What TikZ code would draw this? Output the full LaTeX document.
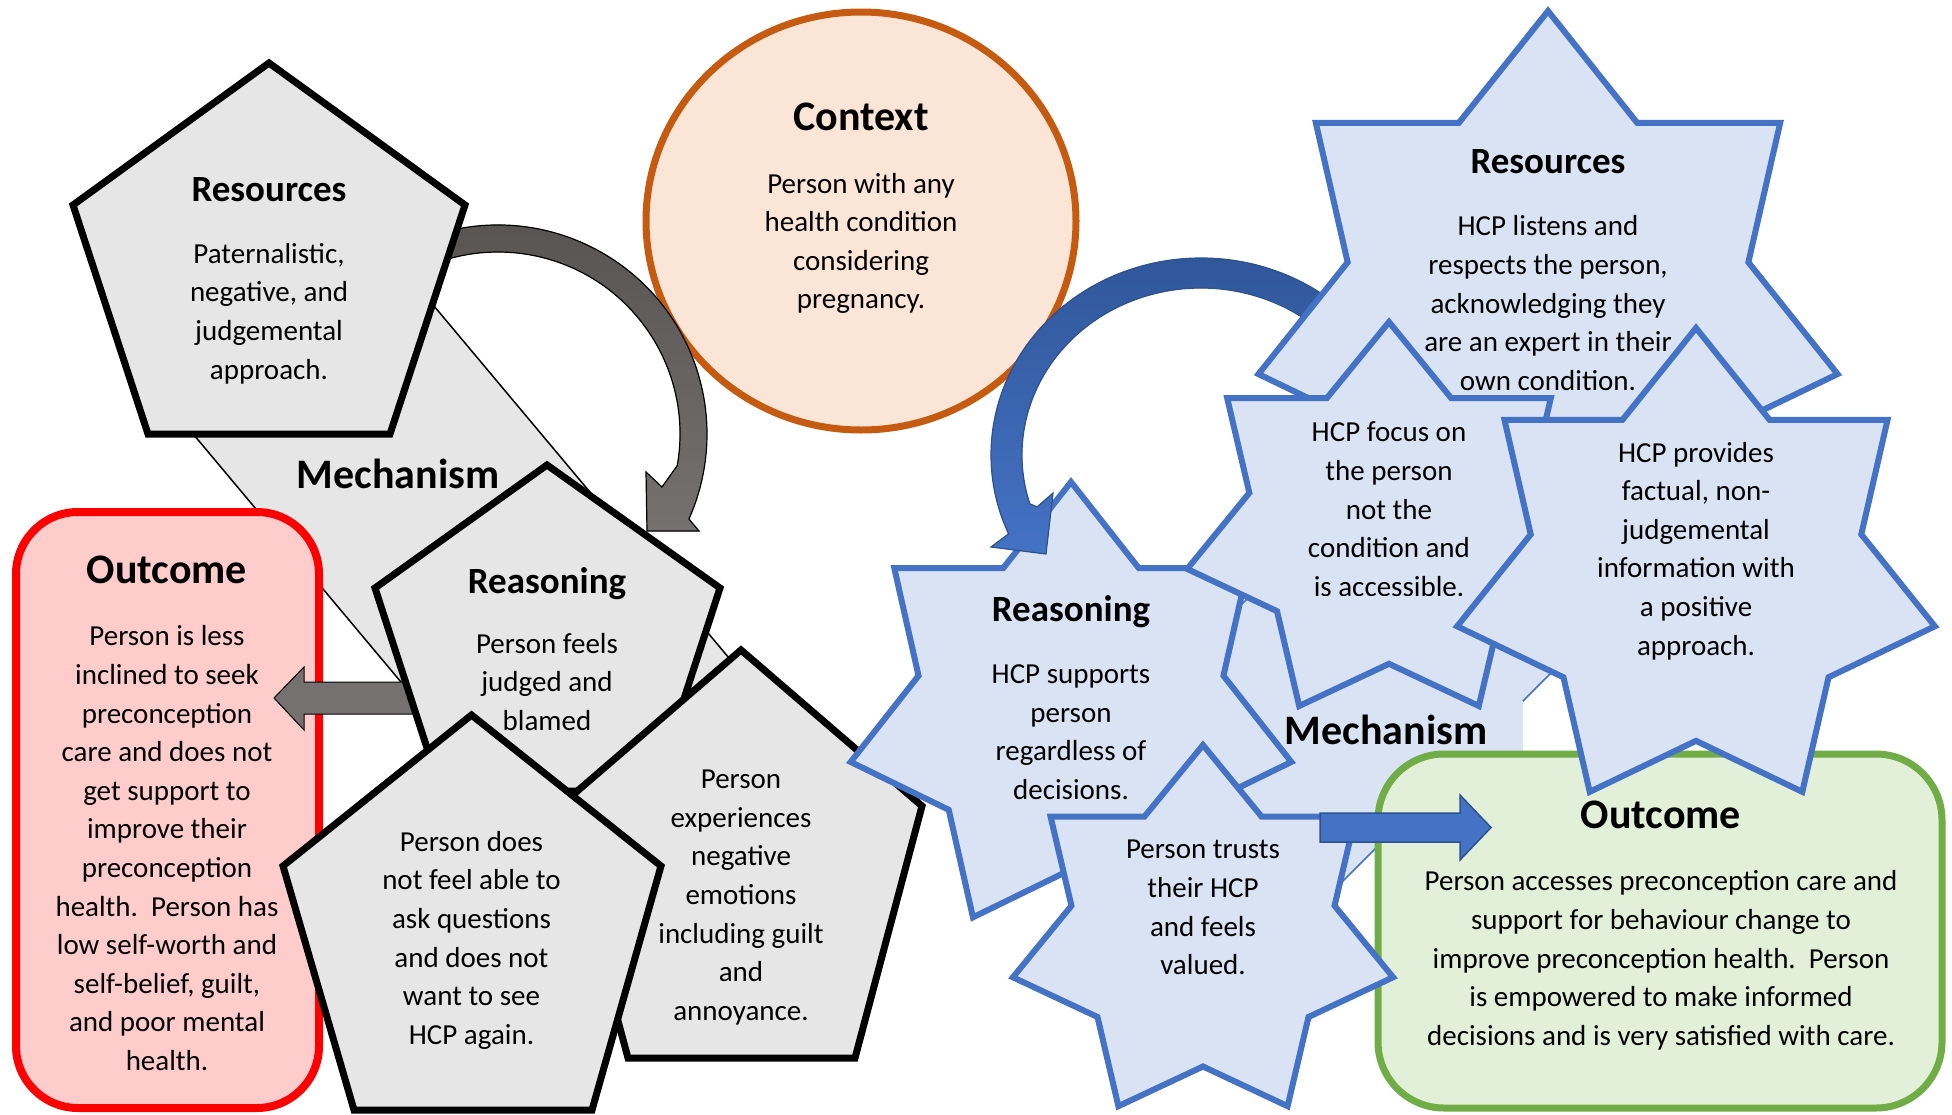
\documentclass[tikz,border=0pt]{standalone}
\usepackage{fontspec}
\setmainfont{Carlito}
\usetikzlibrary{calc}
\definecolor{pgray}{HTML}{E7E6E6}
\definecolor{agray}{HTML}{767171}
\definecolor{agrayd}{HTML}{565252}
\definecolor{ored}{HTML}{FF0000}
\definecolor{ofill}{HTML}{FFCCCC}
\definecolor{cstroke}{HTML}{C55A11}
\definecolor{cfill}{HTML}{FBE5D6}
\definecolor{sblue}{HTML}{4472C4}
\definecolor{sfill}{HTML}{DAE3F3}
\definecolor{bdark}{HTML}{2F528F}
\definecolor{bdarktop}{HTML}{2F5597}
\definecolor{gstroke}{HTML}{70AD47}
\definecolor{gfill}{HTML}{E2F0D9}
\newcommand\bodyfont{\fontsize{29}{38.6}\selectfont}
\newcommand\ttlsmall{\fontsize{37}{44}\selectfont\bfseries}
\newcommand\ttlbig{\fontsize{42}{50}\selectfont\bfseries}
\newcommand\sevenstar[4]{\filldraw[starbox] plot[samples at={0,...,13}, variable=\k] ({#1+ifthenelse(mod(\k,2)==0,1,0.692)*#3*cos(-90+\k*360/14)}, {#2+ifthenelse(mod(\k,2)==0,1,0.692)*#4*sin(-90+\k*360/14)}) -- cycle;}
\tikzset{
  pent/.style={draw=black, line width=7pt, fill=pgray, line join=miter},
  starbox/.style={draw=sblue, line width=6pt, fill=sfill, line join=miter},
  body/.style={font=\bodyfont, align=center, inner sep=0pt, text=black},
  ttlA/.style={font=\ttlsmall, inner sep=0pt, anchor=base, text=black},
  ttlB/.style={font=\ttlbig, inner sep=0pt, anchor=base, text=black}
}
\begin{document}
\begin{tikzpicture}[x=1pt, y=-1pt]
\fill[white] (0,0) rectangle (1952,1114);
\useasboundingbox (0,0) rectangle (1952,1114);

% ---------- LEFT SIDE ----------
% mechanism band
\filldraw[fill=pgray, draw=black, line width=1.5pt] (369.8,229.4) -- (767.8,704.3) -- (563.3,875.7) -- (165.3,400.8) -- cycle;
\node[ttlB] (lmech) at (398,488) {Mechanism};

% outcome (red)
\filldraw[draw=ored, fill=ofill, line width=8pt, rounded corners=62pt] (16,512) rectangle (319,1108);
\node[ttlB] (lout-t) at (167,583) {Outcome};
\node[body] (lout-b) at (167,850.4) {\strut Person is less\\\strut inclined to seek\\\strut preconception\\\strut care and does not\\\strut get support to\\\strut improve their\\\strut preconception\\\strut health.\ \ Person has\\\strut low self-worth and\\\strut self-belief, guilt,\\\strut and poor mental\\\strut health.};

% left arrow
\filldraw[fill=agray, draw=black, line width=1pt] (274,698) -- (304,667) -- (304,682) -- (430,682) -- (430,714) -- (304,714) -- (304,730) -- cycle;

% reasoning pentagon
\filldraw[pent] (547,465) -- (720,588) -- (654,791) -- (441,791) -- (375,588) -- cycle;
\node[ttlA] (lrea-t) at (547,593) {Reasoning};
\node[body] (lrea-b) at (547,684) {\strut Person feels\\\strut judged and\\\strut blamed};

% experiences pentagon
\filldraw[pent] (741,650) -- (922,806) -- (855,1058) -- (628,1058) -- (560,806) -- cycle;
\node[body] (pexp) at (741,896.7) {\strut Person\\\strut experiences\\\strut negative\\\strut emotions\\\strut including guilt\\\strut and\\\strut annoyance.};

% does-not pentagon
\filldraw[pent] (471.5,715) -- (661,866) -- (592,1110) -- (354,1110) -- (283,866) -- cycle;
\node[body] (pdn) at (471.5,940) {\strut Person does\\\strut not feel able to\\\strut ask questions\\\strut and does not\\\strut want to see\\\strut HCP again.};

% context ellipse
\filldraw[draw=cstroke, fill=cfill, line width=7pt] (861,221) ellipse[x radius=215, y radius=209];
\node[ttlB] (ctx-t) at (861,130) {Context};
\node[body] (ctx-b) at (861,243.3) {\strut Person with any\\\strut health condition\\\strut considering\\\strut pregnancy.};

% gray curved arrow
\coordinate (gc) at (498,434);
\filldraw[draw=black, line width=1.2pt, top color=agrayd, bottom color=agray] ($(gc)+(-110:209)$) arc[start angle=-110, end angle=24, radius=209] -- (699,531) -- (647,531) -- (646,472) -- (662,487) -- ($(gc)+(10:182)$) arc[start angle=10, end angle=-110, radius=182] -- cycle;

% resources pentagon
\filldraw[pent] (269,63) -- (465,205) -- (390,434) -- (148,434) -- (73,205) -- cycle;
\node[ttlA] (lres-t) at (269,201) {Resources};
\node[body] (lres-b) at (269,313.5) {\strut Paternalistic,\\\strut negative, and\\\strut judgemental\\\strut approach.};

% ---------- RIGHT SIDE ----------
% mechanism band
\filldraw[fill=sfill, draw=sblue, line width=1.5pt] (1236,988) -- (1660,564) -- (1471,375) -- (1047,799) -- cycle;
\fill[sfill] (1249,701) rectangle (1523,775);

% outcome (green)
\filldraw[draw=gstroke, fill=gfill, line width=7pt, rounded corners=66pt] (1378,754) rectangle (1942,1108);
\node[ttlB] (rout-t) at (1661,828) {Outcome};
\node[body] (rout-b) at (1661,960.4) {\strut Person accesses preconception care and\\\strut support for behaviour change to\\\strut improve preconception health.\ \ Person\\\strut is empowered to make informed\\\strut decisions and is very satisfied with care.};

% reasoning star
\sevenstar{1071}{711}{226}{229}
\node[ttlA] (rrea-t) at (1071,621.5) {Reasoning};
\node[body] (rrea-b) at (1071,733.6) {\strut HCP supports\\\strut person\\\strut regardless of\\\strut decisions.};

% blue curved arrow
\coordinate (bc) at (1201,455);
\filldraw[draw=bdark, line width=1.2pt, top color=bdarktop, bottom color=sblue] ($(bc)+(-50:210 and 197)$) arc[start angle=-50, end angle=-203.6, x radius=210, y radius=197] -- (991,547) -- (1046,554) -- (1053,493) -- (1037,507) -- ($(bc)+(-197:179 and 167)$) arc[start angle=-197, end angle=-50, x radius=179, y radius=167] -- cycle;

% resources star
\sevenstar{1548}{308}{297}{297}
\node[ttlA] (rres-t) at (1548,173) {Resources};
\node[body] (rres-b) at (1548,305.4) {\strut HCP listens and\\\strut respects the person,\\\strut acknowledging they\\\strut are an expert in their\\\strut own condition.};

% HCP focus star
\sevenstar{1389}{524}{207}{202}
\begin{scope}
\clip (1200,380) rectangle (1600,595);
\node[body] (focus) at (1389,511.4) {\strut HCP focus on\\\strut the person\\\strut not the\\\strut condition and\\\strut is accessible.};
\end{scope}

% HCP provides star
\sevenstar{1696}{572}{245}{244}
\node[body] (prov) at (1696,550.8) {\strut HCP provides\\\strut factual, non-\\\strut judgemental\\\strut information with\\\strut a positive\\\strut approach.};

% trusts star
\sevenstar{1203}{935}{195}{190}
\node[body] (trust) at (1203,909) {\strut Person trusts\\\strut their HCP\\\strut and feels\\\strut valued.};

% blue straight arrow
\filldraw[fill=sblue, draw=bdark, line width=1.5pt] (1320,813) -- (1460,813) -- (1460,795) -- (1491,827.5) -- (1460,860) -- (1460,842) -- (1320,842) -- cycle;

\node[ttlB] (rmech) at (1386,744) {Mechanism};
\end{tikzpicture}
\end{document}
